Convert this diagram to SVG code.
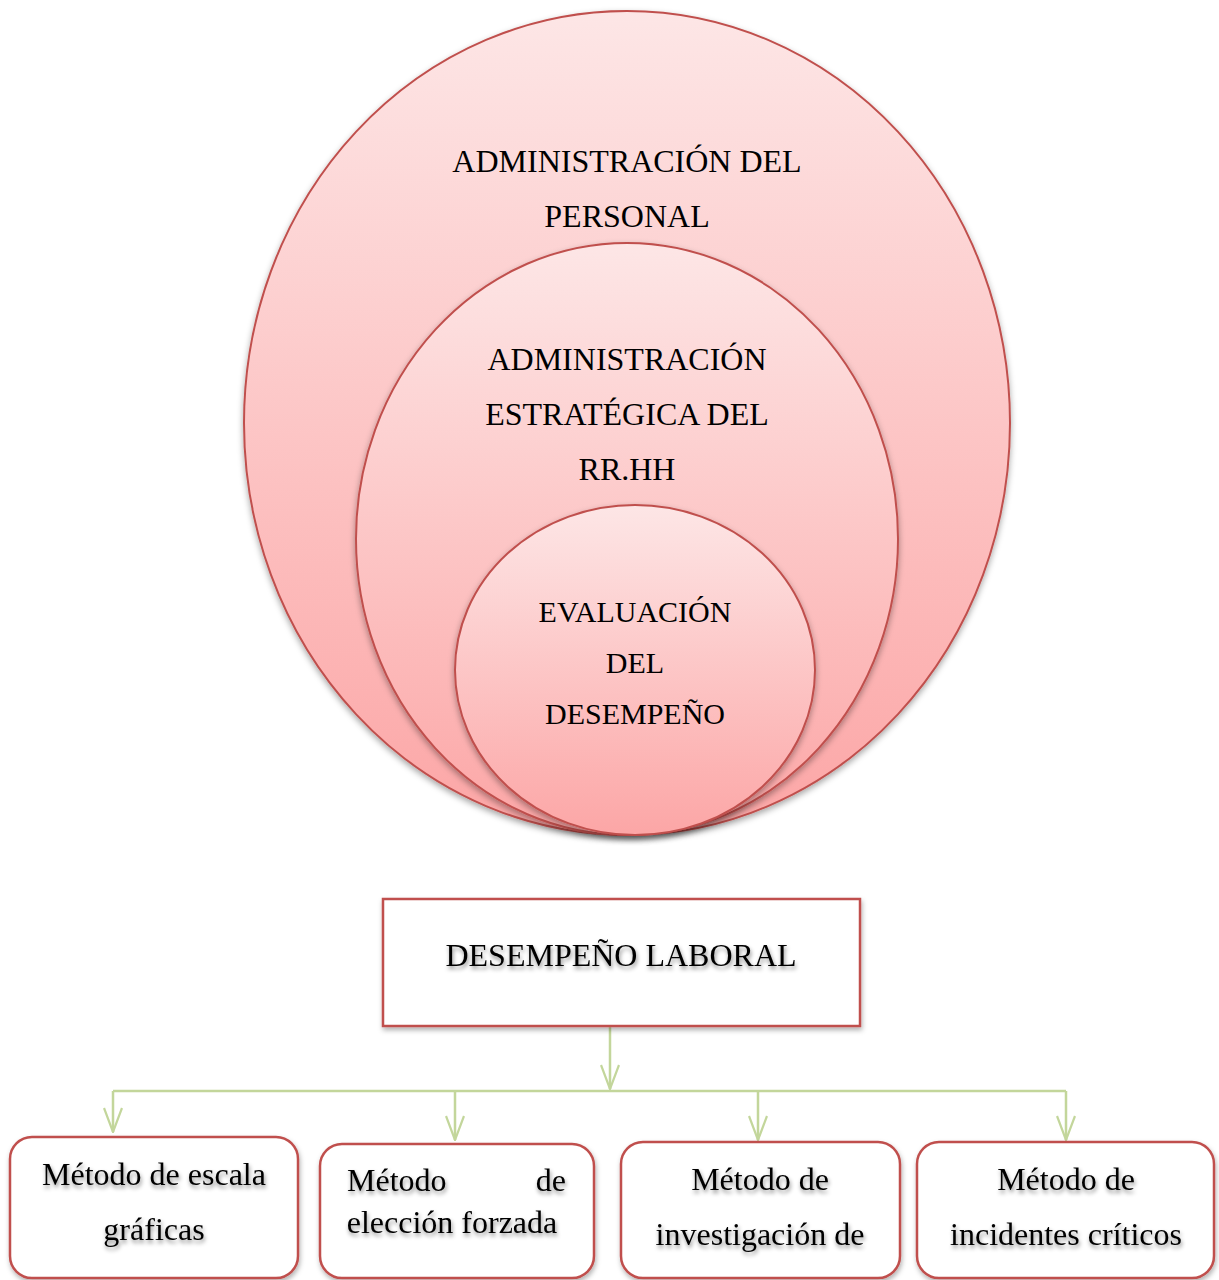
<svg xmlns="http://www.w3.org/2000/svg" width="1219" height="1280" viewBox="0 0 1219 1280">
<style>
.ell{stroke:#c0504d;stroke-width:2;}
.t{font-family:"Liberation Serif","Times New Roman",serif;font-size:32px;fill:#000;text-anchor:middle;}
.ti{font-size:30px;}
.tb{font-family:"Liberation Serif","Times New Roman",serif;font-size:32px;fill:#000;text-anchor:middle;filter:url(#tsh);}
.box{fill:#fff;stroke:#c0504d;stroke-width:2.5;filter:url(#bsh);}
.con{fill:none;stroke:#c3d69b;stroke-width:2.5;}
</style>
<defs>
<linearGradient id="g1" x1="0" y1="0" x2="0" y2="1">
<stop offset="0" stop-color="#fde6e6"/><stop offset="1" stop-color="#fca6a6"/>
</linearGradient>
<filter id="esh" x="-10%" y="-10%" width="120%" height="120%">
<feDropShadow dx="0" dy="3" stdDeviation="3" flood-color="#000" flood-opacity="0.35"/>
</filter>
<filter id="bsh" x="-10%" y="-10%" width="120%" height="130%">
<feDropShadow dx="1" dy="3" stdDeviation="2.5" flood-color="#000" flood-opacity="0.3"/>
</filter>
<filter id="tsh" x="-10%" y="-30%" width="120%" height="160%">
<feDropShadow dx="1" dy="3" stdDeviation="2" flood-color="#000" flood-opacity="0.45"/>
</filter>
<marker id="arr" viewBox="0 0 26 20" refX="25" refY="10" markerWidth="26" markerHeight="20" markerUnits="userSpaceOnUse" orient="auto">
<path d="M1,1 L25,10 L1,19" fill="none" stroke="#c3d69b" stroke-width="2.2"/>
</marker>
</defs>
<g id="outer">
<ellipse class="ell" cx="627" cy="423" rx="383" ry="412" fill="url(#g1)" filter="url(#esh)"/>
<text class="t" x="627" y="172">ADMINISTRACIÓN DEL</text>
<text class="t" x="627" y="227">PERSONAL</text>
</g>
<g id="middle">
<ellipse class="ell" cx="627" cy="539" rx="271" ry="296" fill="url(#g1)" filter="url(#esh)"/>
<text class="t" x="627" y="370">ADMINISTRACIÓN</text>
<text class="t" x="627" y="425">ESTRATÉGICA DEL</text>
<text class="t" x="627" y="480">RR.HH</text>
</g>
<g id="inner">
<ellipse class="ell" cx="635" cy="670" rx="180" ry="165" fill="url(#g1)" filter="url(#esh)"/>
<text class="t ti" x="635" y="622">EVALUACIÓN</text>
<text class="t ti" x="635" y="673">DEL</text>
<text class="t ti" x="635" y="724">DESEMPEÑO</text>
</g>
<g id="connectors">
<path class="con" d="M610,1026 L610,1089" marker-end="url(#arr)"/>
<path class="con" d="M113,1091 L1066,1091"/>
<path class="con" d="M113,1091 L113,1132" marker-end="url(#arr)"/>
<path class="con" d="M455,1091 L455,1140" marker-end="url(#arr)"/>
<path class="con" d="M758,1091 L758,1140" marker-end="url(#arr)"/>
<path class="con" d="M1066,1091 L1066,1140" marker-end="url(#arr)"/>
</g>
<g id="desempeno">
<rect class="box" x="383" y="899" width="477" height="127"/>
<text class="tb" x="621" y="966">DESEMPEÑO LABORAL</text>
</g>
<g id="m1">
<rect class="box" x="10" y="1137" width="288" height="141" rx="22"/>
<text class="tb" x="154" y="1185">Método de escala</text>
<text class="tb" x="154" y="1240">gráficas</text>
</g>
<g id="m2">
<rect class="box" x="320" y="1144" width="274" height="134" rx="22"/>
<text class="tb" x="347" y="1191" style="text-anchor:start">Método</text>
<text class="tb" x="566" y="1191" style="text-anchor:end">de</text>
<text class="tb" x="452" y="1233">elección forzada</text>
</g>
<g id="m3">
<rect class="box" x="621" y="1142" width="279" height="136" rx="22"/>
<text class="tb" x="760" y="1190">Método de</text>
<text class="tb" x="760" y="1245">investigación de</text>
</g>
<g id="m4">
<rect class="box" x="917" y="1142" width="297" height="136" rx="22"/>
<text class="tb" x="1066" y="1190">Método de</text>
<text class="tb" x="1066" y="1245">incidentes críticos</text>
</g>
</svg>
